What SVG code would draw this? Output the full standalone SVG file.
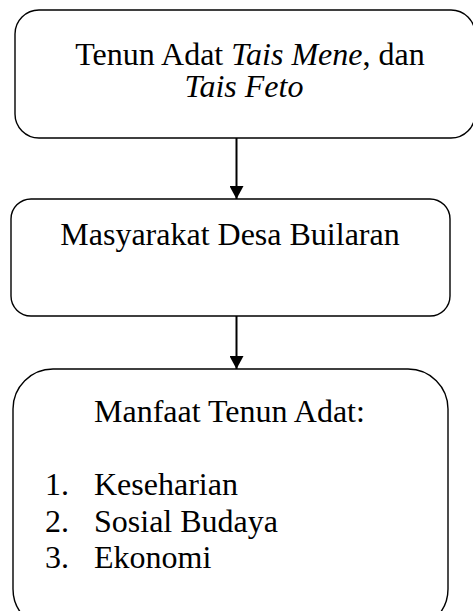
<svg xmlns="http://www.w3.org/2000/svg" width="473" height="611" viewBox="0 0 473 611">
<style>
.box{fill:#fff;stroke:#000;stroke-width:1.4}
.t{font-family:"Liberation Serif","Times New Roman",serif;font-size:32px;fill:#000}
.c{stroke:#000;stroke-width:2;fill:none}
</style>
<defs>
<marker id="ah" markerWidth="14" markerHeight="14" refX="13" refY="7" orient="auto" markerUnits="userSpaceOnUse">
<path d="M0,0 L13,7 L0,14 Z" fill="#000"/>
</marker>
</defs>
<rect width="473" height="611" fill="#fff"/>
<g id="node1">
<rect class="box" x="15" y="10" width="460" height="128" rx="24"/>
<text class="t" x="250" y="65" text-anchor="middle">Tenun Adat <tspan font-style="italic">Tais Mene</tspan>, dan</text>
<text class="t" x="244" y="97" text-anchor="middle" font-style="italic">Tais Feto</text>
</g>
<g id="node2">
<rect class="box" x="11" y="199" width="439" height="117" rx="20"/>
<text class="t" x="230" y="245" text-anchor="middle">Masyarakat Desa Builaran</text>
</g>
<g id="node3">
<rect class="box" x="13" y="369" width="435" height="260" rx="40"/>
<text class="t" x="94" y="422">Manfaat Tenun Adat:</text>
<text class="t" x="45" y="495">1.</text><text class="t" x="94" y="495">Keseharian</text>
<text class="t" x="45" y="532">2.</text><text class="t" x="94" y="532">Sosial Budaya</text>
<text class="t" x="45" y="568">3.</text><text class="t" x="94" y="568">Ekonomi</text>
</g>
<g id="connectors">
<line class="c" x1="236.5" y1="138" x2="236.5" y2="199" marker-end="url(#ah)"/>
<line class="c" x1="236.5" y1="316" x2="236.5" y2="369" marker-end="url(#ah)"/>
</g>
</svg>
